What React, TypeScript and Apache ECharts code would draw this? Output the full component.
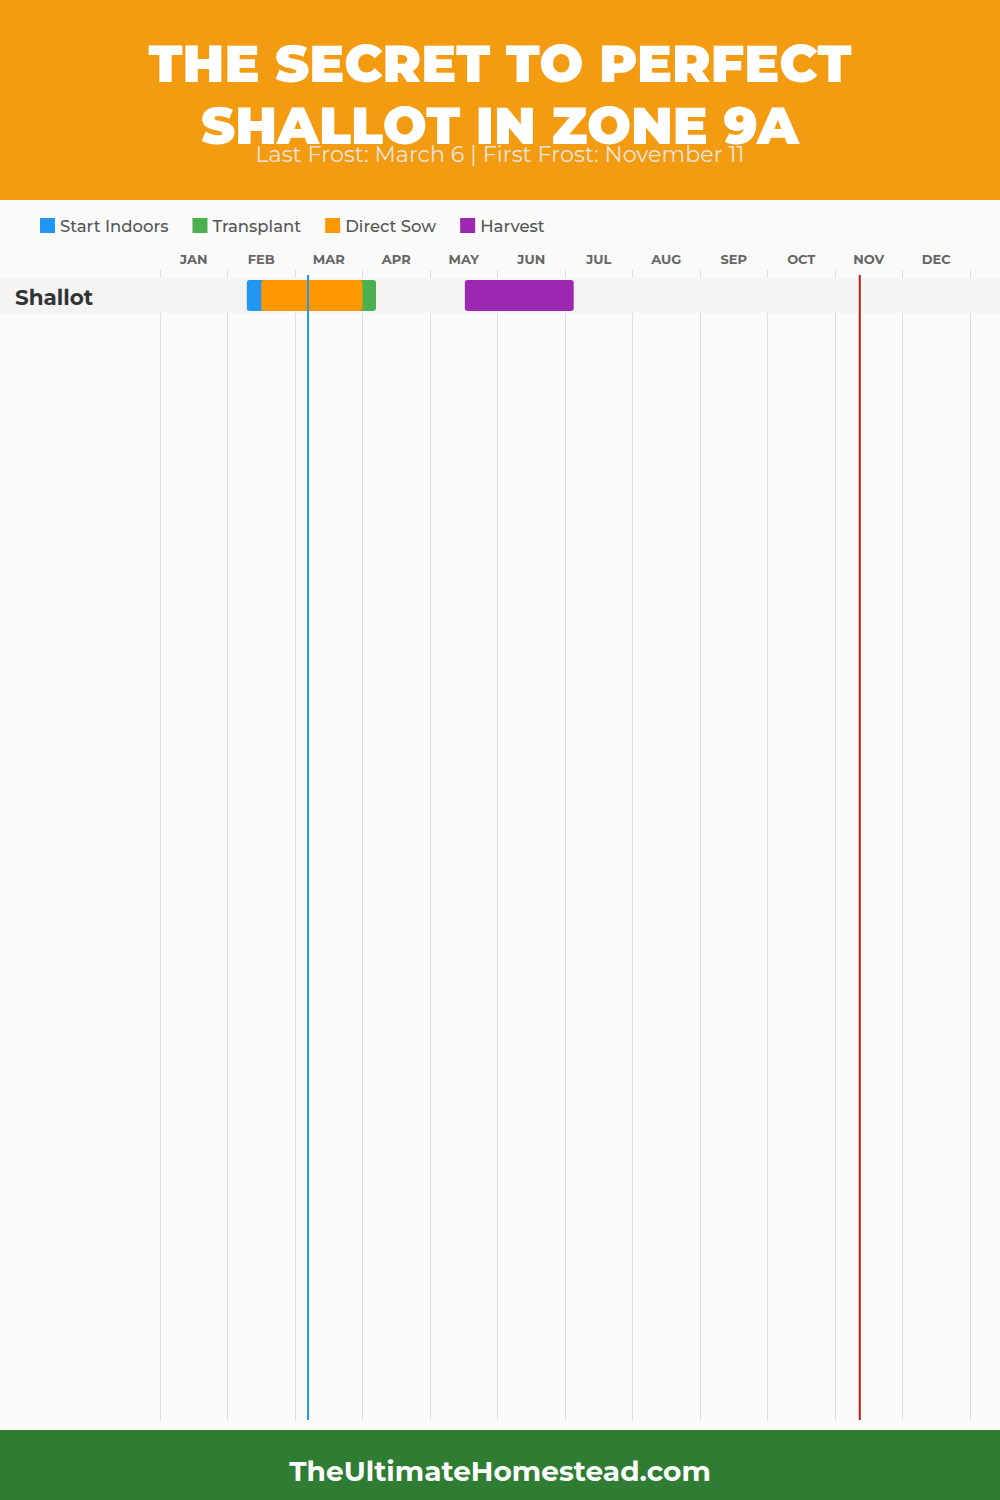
import React, { useEffect, useRef } from "react";
import * as echarts from "echarts";

const MONTHS = ["JAN", "FEB", "MAR", "APR", "MAY", "JUN", "JUL", "AUG", "SEP", "OCT", "NOV", "DEC"];
const DAYS_IN_MONTH = [31, 28, 31, 30, 31, 30, 31, 31, 30, 31, 30, 31];
const CROPS = ["Shallot"];
const PHASES = ["Start Indoors", "Transplant", "Direct Sow", "Harvest"];
const PHASE_COLORS = ["#2196F3", "#4CAF50", "#FF9800", "#9C27B0"];
// [cropIndex, startMonth, startDay, endMonth, endDay]
const START_INDOORS = [[0, 2, 8, 3, 10]];
const TRANSPLANT = [[0, 3, 6, 4, 6]];
const DIRECT_SOW = [[0, 2, 14, 3, 31]];
const HARVEST = [[0, 5, 16, 7, 4]];
const PHASE_DATA = [START_INDOORS, TRANSPLANT, DIRECT_SOW, HARVEST];
// [month, day]
const LAST_FROST = [3, 6];
const FIRST_FROST = [11, 11];
const FROST_COLORS = ["#2196F3", "#B71C1C"];

const TITLE_LINES = ["THE SECRET TO PERFECT", "SHALLOT IN ZONE 9A"];
const SUBTITLE = "Last Frost: March 6 | First Frost: November 11";
const FOOTER = "TheUltimateHomestead.com";

const FONT = "Montserrat, 'Noto Sans', sans-serif";
const GRID_TOP = 278;
const GRID_BOTTOM = 1420;
const GRID_LEFT = 160;
const GRID_RIGHT = 970;
const ROW_H = 35;

function toMonthPos(m: number, d: number) {
  return m - 1 + d / DAYS_IN_MONTH[m - 1];
}

export default function App() {
  const ref = useRef<HTMLDivElement>(null);
  useEffect(() => {
    document.body.style.margin = "0";
    const chart = echarts.init(ref.current!, null, { renderer: "svg" });
    const rowsMax = (GRID_BOTTOM - GRID_TOP) / ROW_H;

    const bandSeries = {
      type: "custom",
      name: "rows",
      clip: false,
      z: 1,
      silent: true,
      encode: { x: 0, y: 1 },
      data: CROPS.map((c, i) => [0, i, c]),
      renderItem: (params: any, api: any) => {
        const top = api.coord([0, api.value(1)]);
        const bot = api.coord([0, api.value(1) + 1]);
        const name = CROPS[api.value(1)];
        return {
          type: "group",
          children: [
            {
              type: "rect",
              shape: { x: 0, y: top[1], width: api.getWidth(), height: bot[1] - top[1] },
              style: { fill: "#F4F4F3" },
            },
            {
              type: "text",
              style: {
                x: 15,
                y: (top[1] + bot[1]) / 2 + 1,
                text: name,
                fill: "#333333",
                fontSize: 21.5,
                fontWeight: 700,
                fontFamily: FONT,
                textVerticalAlign: "middle",
              },
            },
          ],
        };
      },
    };

    const phaseSeries = PHASES.map((p, k) => ({
      type: "custom",
      name: p,
      clip: false,
      z: 3,
      itemStyle: { color: PHASE_COLORS[k] },
      encode: { x: [0, 1], y: 2 },
      data: PHASE_DATA[k].map((r) => [toMonthPos(r[1], r[2]), toMonthPos(r[3], r[4]), r[0]]),
      renderItem: (params: any, api: any) => {
        const a = api.coord([api.value(0), api.value(2)]);
        const b = api.coord([api.value(1), api.value(2) + 1]);
        return {
          type: "rect",
          shape: { x: a[0], y: a[1] + 2, width: b[0] - a[0], height: b[1] - a[1] - 4, r: 3 },
          style: { fill: api.visual("color") },
        };
      },
    }));

    const frostSeries = {
      type: "custom",
      name: "frost",
      clip: false,
      z: 4,
      silent: true,
      encode: { x: 0, y: 1 },
      data: [
        [toMonthPos(LAST_FROST[0], LAST_FROST[1]), 0, 0],
        [toMonthPos(FIRST_FROST[0], FIRST_FROST[1]), 0, 1],
      ],
      renderItem: (params: any, api: any) => {
        const p = api.coord([api.value(0), 0]);
        const cs = params.coordSys;
        return {
          type: "line",
          shape: { x1: p[0], y1: cs.y - 3, x2: p[0], y2: cs.y + cs.height },
          style: { stroke: FROST_COLORS[api.value(2)], lineWidth: 2 },
        };
      },
    };

    chart.setOption({
      animation: false,
      backgroundColor: "#FAFAF9",
      textStyle: { fontFamily: FONT },
      grid: { left: GRID_LEFT, right: 1000 - GRID_RIGHT, top: GRID_TOP, bottom: 1500 - GRID_BOTTOM, containLabel: false },
      legend: {
        data: PHASES,
        left: 35,
        top: 212,
        icon: "rect",
        itemWidth: 15,
        itemHeight: 15,
        itemGap: 24,
        selectedMode: false,
        textStyle: { fontSize: 16.5, color: "#555555", fontFamily: FONT, fontWeight: 500 },
      },
      xAxis: [
        {
          type: "value",
          position: "top",
          min: 0,
          max: 12,
          interval: 1,
          axisLine: { show: false },
          axisLabel: { show: false },
          axisTick: { show: true, inside: false, length: 8, lineStyle: { color: "#DDDDDD" } },
          splitLine: { show: true, lineStyle: { color: "#DDDDDD", width: 1 } },
        },
        {
          type: "category",
          position: "top",
          data: MONTHS,
          boundaryGap: true,
          axisLine: { show: false },
          axisTick: { show: false },
          splitLine: { show: false },
          axisLabel: { color: "#666666", fontSize: 13, fontWeight: 700, margin: 13, fontFamily: FONT },
        },
      ],
      yAxis: { type: "value", inverse: true, min: 0, max: rowsMax, show: false },
      graphic: [
        { type: "rect", z: 0, shape: { x: 0, y: 0, width: 1000, height: 200 }, style: { fill: "#F39C12" } },
        { type: "rect", z: 0, shape: { x: 0, y: 1430, width: 1000, height: 70 }, style: { fill: "#2E7D32" } },
        {
          type: "text", z: 5, x: 500, y: 63,
          style: { text: TITLE_LINES[0], fill: "#FFFFFF", fontSize: 52, fontWeight: 900, fontFamily: FONT, textAlign: "center", textVerticalAlign: "middle" },
        },
        {
          type: "text", z: 5, x: 500, y: 125,
          style: { text: TITLE_LINES[1], fill: "#FFFFFF", fontSize: 52, fontWeight: 900, fontFamily: FONT, textAlign: "center", textVerticalAlign: "middle" },
        },
        {
          type: "text", z: 5, x: 500, y: 154,
          style: { text: SUBTITLE, fill: "#E8E4DC", fontSize: 22.3, fontWeight: 400, fontFamily: FONT, textAlign: "center", textVerticalAlign: "middle" },
        },
        {
          type: "text", z: 5, x: 500, y: 1471,
          style: { text: FOOTER, fill: "#FFFFFF", fontSize: 28, fontWeight: 700, fontFamily: FONT, textAlign: "center", textVerticalAlign: "middle" },
        },
      ],
      series: [bandSeries, ...phaseSeries, frostSeries],
    });
    return () => chart.dispose();
  }, []);
  return <div ref={ref} style={{ width: 1000, height: 1500 }} />;
}
